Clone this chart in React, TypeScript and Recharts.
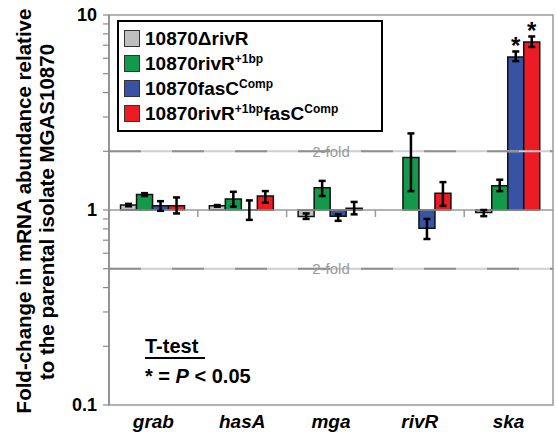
import React from "react";
import {
  BarChart,
  Bar,
  XAxis,
  YAxis,
  ErrorBar,
  LabelList,
  ReferenceLine,
  ReferenceArea,
  Legend,
} from "recharts";

const genes = ["grab", "hasA", "mga", "rivR", "ska"];

// fold change vs MGAS10870, with lower / upper ends of the error bars
const delRivRMean = [1.06, 1.05, 0.925, null, 0.97];
const delRivRLow = [1.045, 1.04, 0.9, null, 0.93];
const delRivRHigh = [1.075, 1.06, 0.96, null, 1.0];

const rivR1bpMean = [1.2, 1.14, 1.3, 1.86, 1.33];
const rivR1bpLow = [1.18, 1.04, 1.18, 1.25, 1.25];
const rivR1bpHigh = [1.22, 1.24, 1.41, 2.47, 1.43];

const fasCMean = [1.05, 1.001, 0.93, 0.806, 6.09];
const fasCLow = [0.99, 0.89, 0.88, 0.71, 5.8];
const fasCHigh = [1.11, 1.12, 0.95, 0.9, 6.5];

const bothMean = [1.05, 1.18, 1.02, 1.22, 7.27];
const bothLow = [0.96, 1.09, 0.95, 1.05, 6.86];
const bothHigh = [1.16, 1.25, 1.1, 1.39, 7.76];

const fasCSig = ["", "", "", "", "*"];
const bothSig = ["", "", "", "", "*"];

const yTicks = [
  0.1, 0.2, 0.3, 0.4, 0.5, 0.6, 0.7, 0.8, 0.9, 1, 2, 3, 4, 5, 6, 7, 8, 9, 10,
];
const yTickLabels = [0.1, 1, 10];

const seriesKeys = ["del", "r1bp", "fasC", "both"];
const seriesColors = ["#bfbfbf", "#13994a", "#3953a4", "#ed1c24"];
const means = [delRivRMean, rivR1bpMean, fasCMean, bothMean];
const lows = [delRivRLow, rivR1bpLow, fasCLow, bothLow];
const highs = [delRivRHigh, rivR1bpHigh, fasCHigh, bothHigh];

const FONT = '"Liberation Sans", Arial, Helvetica, sans-serif';
const GRID = "#9a9a9a";

const data = genes.map((gene, i) => {
  const row: Record<string, unknown> = { gene, fasCSig: fasCSig[i], bothSig: bothSig[i] };
  seriesKeys.forEach((k, s) => {
    const m = means[s][i];
    row[k] = m == null ? null : [1, m];
    row[k + "Err"] = m == null ? null : [m - (lows[s][i] as number), (highs[s][i] as number) - m];
  });
  return row;
});

const sup = { fontSize: 12, position: "relative" as const, top: -7 };
const legendLabels = [
  <>10870ΔrivR</>,
  <>
    10870rivR<span style={sup}>+1bp</span>
  </>,
  <>
    10870fasC<span style={sup}>Comp</span>
  </>,
  <>
    10870rivR<span style={sup}>+1bp</span>fasC<span style={sup}>Comp</span>
  </>,
];

function LegendBox() {
  return (
    <div
      style={{
        border: "2px solid #000",
        background: "#fff",
        width: 257,
        padding: "4px 0 4px 5px",
        fontFamily: FONT,
        fontWeight: 700,
        fontSize: 19,
        color: "#000",
        boxSizing: "content-box",
      }}
    >
      {legendLabels.map((label, i) => (
        <div key={i} style={{ height: 25, display: "flex", alignItems: "center", whiteSpace: "nowrap" }}>
          <span
            style={{
              width: 14,
              height: 15,
              background: seriesColors[i],
              border: "1.5px solid #333",
              marginRight: 5,
              flex: "none",
            }}
          />
          <span>{label}</span>
        </div>
      ))}
    </div>
  );
}

function GeneTick(props: any) {
  const { x, y, payload } = props;
  return (
    <text
      x={x}
      y={y}
      dy={15}
      textAnchor="middle"
      fontFamily={FONT}
      fontWeight={700}
      fontStyle="italic"
      fontSize={19}
      fill="#000"
    >
      {payload.value}
    </text>
  );
}

function BaseLine(props: any) {
  const { x1, x2, y1 } = props;
  const n = genes.length;
  return (
    <g>
      <line x1={x1} x2={x2} y1={y1} y2={y1} stroke={GRID} strokeWidth={1.5} />
      {genes.slice(1).map((g, i) => {
        const x = x1 + ((x2 - x1) * (i + 1)) / n;
        return <line key={g} x1={x} x2={x} y1={y1} y2={y1 + 7} stroke={GRID} strokeWidth={1.5} />;
      })}
    </g>
  );
}

export default function App() {
  return (
    <div style={{ position: "relative", width: 557, height: 432, background: "#fff" }}>
      <style>{"body{margin:0}"}</style>
      <BarChart
        width={557}
        height={432}
        data={data}
        margin={{ top: 15, right: 4, bottom: 0, left: 0 }}
        barCategoryGap="13%"
        barGap={0}
      >
        <ReferenceArea y1={0.1} y2={10} fill="none" stroke={GRID} strokeWidth={1.5} ifOverflow="visible" />
        <ReferenceLine y={2} stroke="#cfcfcf" strokeWidth={2} />
        <ReferenceLine
          y={2}
          stroke="#8f8f8f"
          strokeWidth={2}
          strokeDasharray="32 31"
          label={{ value: "2-fold", position: "center", fill: "#9a9a9a", fontSize: 15, fontFamily: FONT }}
        />
        <ReferenceLine y={0.5} stroke="#cfcfcf" strokeWidth={2} />
        <ReferenceLine
          y={0.5}
          stroke="#8f8f8f"
          strokeWidth={2}
          strokeDasharray="32 31"
          label={{ value: "2-fold", position: "center", fill: "#9a9a9a", fontSize: 15, fontFamily: FONT }}
        />
        <ReferenceLine y={1} shape={BaseLine} />
        <XAxis
          dataKey="gene"
          height={27}
          axisLine={false}
          tickLine={false}
          tick={<GeneTick />}
          interval={0}
        />
        <YAxis
          scale="log"
          type="number"
          domain={[0.1, 10]}
          allowDataOverflow
          ticks={yTicks}
          interval={0}
          width={109}
          tickSize={6}
          tickMargin={6}
          stroke={GRID}
          axisLine={{ stroke: "#8a8a8a", strokeWidth: 1.5 }}
          tickLine={{ stroke: "#8a8a8a", strokeWidth: 1.2 }}
          tick={{ fill: "#000", fontSize: 18, fontWeight: 700, fontFamily: FONT }}
          tickFormatter={(v: number) => (yTickLabels.includes(v) ? String(v) : "")}
        />
        <Legend
          layout="horizontal"
          verticalAlign="middle"
          align="center"
          content={() => <LegendBox />}
          wrapperStyle={{ position: "absolute", top: 20, left: 117, width: "auto", height: "auto" }}
        />
        {seriesKeys.map((k, s) => (
          <Bar
            key={k}
            dataKey={k}
            fill={seriesColors[s]}
            stroke="#111"
            strokeWidth={1.5}
            isAnimationActive={false}
          >
            <ErrorBar dataKey={k + "Err"} width={3.5} stroke="#000" strokeWidth={2.5} isAnimationActive={false} />
            {k === "fasC" && (
              <LabelList dataKey="fasCSig" position="top" offset={3} fill="#000" fontSize={24} fontWeight={700} fontFamily={FONT} />
            )}
            {k === "both" && (
              <LabelList dataKey="bothSig" position="top" offset={3} fill="#000" fontSize={24} fontWeight={700} fontFamily={FONT} />
            )}
          </Bar>
        ))}
      </BarChart>
      <svg
        width={557}
        height={432}
        style={{ position: "absolute", left: 0, top: 0, pointerEvents: "none" }}
        fontFamily={FONT}
        fontWeight={700}
      >
        <text transform="rotate(-90)" x={-211} y={31} textAnchor="middle" fontSize={20.5} fill="#000">
          Fold-change in mRNA abundance relative
        </text>
        <text transform="rotate(-90)" x={-212} y={54} textAnchor="middle" fontSize={20.5} fill="#000">
          to the parental isolate MGAS10870
        </text>
        <text x={145} y={353} fontSize={20} fill="#000">
          T-test
        </text>
        <line x1={145} x2={205} y1={358} y2={358} stroke="#000" strokeWidth={2} />
        <text x={145} y={383} fontSize={20} fill="#000">
          * = <tspan fontStyle="italic">P</tspan> {"< 0.05"}
        </text>
      </svg>
    </div>
  );
}
